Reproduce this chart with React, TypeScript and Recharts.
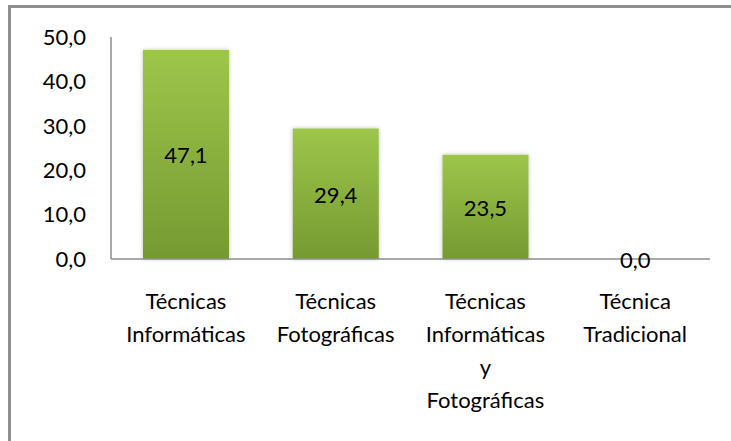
import {Bar, BarChart, Cell, LabelList, XAxis, YAxis} from 'recharts'

const categories = ['Técnicas Informáticas', 'Técnicas Fotográficas', 'Técnicas Informáticas y Fotográficas', 'Técnica Tradicional']
const categoryLines = [
    ['Técnicas', 'Informáticas'],
    ['Técnicas', 'Fotográficas'],
    ['Técnicas', 'Informáticas', 'y', 'Fotográficas'],
    ['Técnica', 'Tradicional'],
]
const values = [47.1, 29.4, 23.5, 0.0]
const yTicks = [0, 10, 20, 30, 40, 50]

const data = categories.map((name, i) => ({name, value: values[i]}))

const font = 'Lato, "Open Sans", sans-serif'
const axisColor = '#8c8c8c'
const formatValue = (v: number) => Number(v).toFixed(1).replace('.', ',')

function CategoryTick({x, y, index}: any) {
    const lines = categoryLines[index] ?? []
    return (
        <text x={x} y={y} textAnchor="middle" fill="#000" fontSize={22} fontFamily={font}>
            {lines.map((line, i) => (
                <tspan key={line + i} x={x} dy={i === 0 ? 50 : 33}>{line}</tspan>
            ))}
        </text>
    )
}

function ValueLabel({x, y, width, height, value}: any) {
    const cx = Number(x) + Number(width) / 2
    const cy = Number(y) + Number(height) / 2
    return (
        <text x={cx} y={cy} dy={9} textAnchor="middle" fill="#000" fontSize={22} fontFamily={font}>
            {formatValue(value)}
        </text>
    )
}

export default function App() {
    return (
        <div style={{position: 'absolute', top: 0, left: 0, width: 731, height: 441, background: '#fff', overflow: 'hidden'}}>
            <div
                style={{
                    position: 'absolute',
                    left: 8,
                    top: 5,
                    width: 800,
                    height: 500,
                    borderTop: '3px solid #8f8f8f',
                    borderLeft: '3px solid #8f8f8f',
                }}
            />
            <BarChart
                width={731}
                height={441}
                data={data}
                margin={{top: 37, right: 21, bottom: 0, left: 0}}
                barSize={86}
                style={{position: 'absolute', top: 0, left: 0}}
            >
                <defs>
                    <linearGradient id="barFill" x1="0" y1="0" x2="0" y2="1">
                        <stop offset="0%" stopColor="#9dc64b"/>
                        <stop offset="100%" stopColor="#759a31"/>
                    </linearGradient>
                    <filter id="barShadow" x="-20%" y="-20%" width="140%" height="140%">
                        <feDropShadow dx="0" dy="0" stdDeviation="2" floodColor="#000" floodOpacity="0.25"/>
                    </filter>
                </defs>
                <XAxis
                    dataKey="name"
                    height={182}
                    interval={0}
                    tickLine={false}
                    tickSize={0}
                    tickMargin={0}
                    axisLine={{stroke: axisColor, strokeWidth: 1.5}}
                    tick={<CategoryTick/>}
                />
                <YAxis
                    width={111}
                    domain={[0, 50]}
                    ticks={yTicks}
                    interval={0}
                    tickFormatter={formatValue}
                    tickLine={false}
                    tickSize={0}
                    tickMargin={25}
                    axisLine={{stroke: axisColor, strokeWidth: 1.5}}
                    tick={{fill: '#000', fontSize: 22, fontFamily: font}}
                />
                <Bar dataKey="value" minPointSize={1} isAnimationActive={false}>
                    {data.map((d) => (
                        <Cell
                            key={d.name}
                            fill={d.value === 0 ? 'transparent' : 'url(#barFill)'}
                            filter={d.value === 0 ? undefined : 'url(#barShadow)'}
                        />
                    ))}
                    <LabelList dataKey="value" content={<ValueLabel/>}/>
                </Bar>
            </BarChart>
        </div>
    )
}
